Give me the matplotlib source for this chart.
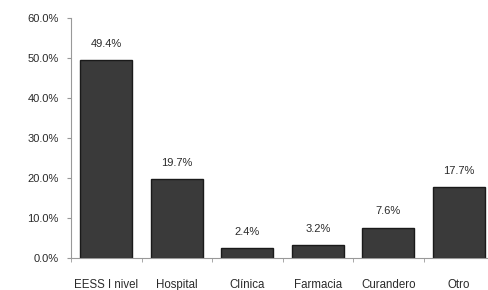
import matplotlib
matplotlib.use("Agg")
import matplotlib.pyplot as plt
from matplotlib.ticker import FixedLocator

categories = ["EESS I nivel", "Hospital", "Clínica", "Farmacia", "Curandero", "Otro"]
values = [49.4, 19.7, 2.4, 3.2, 7.6, 17.7]
labels = ["49.4%", "19.7%", "2.4%", "3.2%", "7.6%", "17.7%"]
yticks = [0, 10, 20, 30, 40, 50, 60]

plt.rcParams['font.family'] = ['Liberation Sans Narrow', 'Liberation Sans', 'DejaVu Sans']

fig = plt.figure(figsize=(4.88, 2.90), dpi=100)
ax = fig.add_axes([0.1455, 0.110, 0.867, 0.828])

x = range(len(categories))
ax.bar(x, values, width=0.74, color="#3a3a3a", edgecolor="#1a1a1a", linewidth=1.0)
for xi, v, lab in zip(x, values, labels):
    ax.text(xi, v + 2.8, lab, ha="center", va="bottom", fontsize=8, color="#2a2a2a")

ax.set_xlim(-0.5, len(categories) - 0.5)
ax.set_ylim(0, 60)
ax.set_yticks(yticks)
ax.set_yticklabels([f"{t:.1f}%" for t in yticks], fontsize=8, color="#2a2a2a")
ax.set_xticks(list(x))
ax.set_xticklabels(categories, fontsize=8.3, color="#2a2a2a")
ax.tick_params(axis="x", length=0, pad=15)
ax.xaxis.set_minor_locator(FixedLocator([i + 0.5 for i in range(-1, len(categories))]))
ax.tick_params(axis="x", which="minor", length=3, color="#999999")
ax.tick_params(axis="y", length=3, color="#999999", pad=6)

for s in ["top", "right"]:
    ax.spines[s].set_visible(False)
ax.spines["left"].set_color("#999999")
ax.spines["bottom"].set_color("#999999")

fig.savefig("out.png", dpi=100)
